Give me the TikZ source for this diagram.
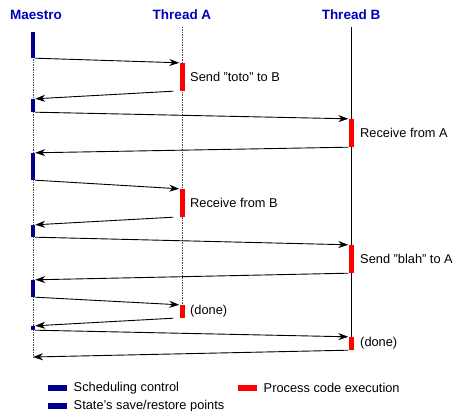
\documentclass[tikz,border=0pt]{standalone}
\usepackage{fontspec}
\setmainfont{Liberation Sans}
\usepackage{tikz}
\usetikzlibrary{positioning, arrows.meta, backgrounds}
\definecolor{MNavy}{RGB}{0,0,140}
\definecolor{MBlue}{RGB}{0,0,190}
\definecolor{MRed}{RGB}{255,0,0}

\begin{document}
\begin{tikzpicture}[x=1pt, y=-1pt,
            ctrl/.style={rectangle, fill=MNavy, inner sep=0pt, minimum width=4pt},
            exec/.style={rectangle, fill=MRed, inner sep=0pt, minimum width=5pt},
            msg/.style={-{Stealth[length=10pt, width=7pt]}, line width=0.9pt},
            life/.style={line width=1pt, black!70, dash pattern=on 1.5pt off 1pt},
            lbl/.style={anchor=west, font=\fontsize{12.8}{14}\selectfont},
            head/.style={font=\fontsize{13.5}{16}\selectfont\bfseries, text=MBlue}
          ]
          \useasboundingbox (0,0) rectangle (454,411);

          % Headings
          \node[head] (maestro) at (36, 15) {Maestro};
          \node[head] (thA)     at (182, 15) {Thread A};
          \node[head] (thB)     at (351, 15) {Thread B};

          % Maestro bars
          \node[ctrl, minimum height=26pt] (m1) at (33, 45) {};
          \node[ctrl, minimum height=13pt] (m2) at (33, 105.5) {};
          \node[ctrl, minimum height=27pt] (m3) at (33, 166.5) {};
          \node[ctrl, minimum height=12pt] (m4) at (33, 231) {};
          \node[ctrl, minimum height=17pt] (m5) at (33, 288.5) {};
          \node[ctrl, minimum height=4pt]  (m6) at (33, 328) {};
          \coordinate (mEnd) at (33, 357);

          % Thread A bars
          \node[exec, minimum height=28pt] (a1) at (182, 77) {};
          \node[exec, minimum height=28pt] (a2) at (182, 203) {};
          \node[exec, minimum height=13pt] (a3) at (182, 311.5) {};

          % Thread B bars
          \node[exec, minimum height=28pt] (b1) at (351, 133) {};
          \node[exec, minimum height=28pt] (b2) at (351, 259) {};
          \node[exec, minimum height=13pt] (b3) at (351, 343.5) {};

          % Lifelines
          \begin{scope}[on background layer]
            \draw[life] (m1.north) -- (mEnd);
            \draw[life] (182, 27) -- (a3.north);
            \draw[line width=0.9pt] (351, 27) -- (b3.north);
          \end{scope}

          % Labels
          \node[lbl] at ([xshift=2pt]a1.east) {Send "toto" to B};
          \node[lbl] at ([xshift=3pt]b1.east) {Receive from A};
          \node[lbl] at ([xshift=2pt]a2.east) {Receive from B};
          \node[lbl] at ([xshift=3pt]b2.east) {Send "blah" to A};
          \node[lbl] at ([xshift=2pt]a3.east) {(done)};
          \node[lbl] at ([xshift=3pt]b3.east) {(done)};

          % Messages
          \draw[msg] (m1.south east) -- (a1.north west);
          \draw[msg] ([xshift=-6pt]a1.south west) -- (m2.north east);
          \draw[msg] (m2.south east) -- (b1.north west);
          \draw[msg] (b1.south west) -- (m3.north east);
          \draw[msg] (m3.south east) -- (a2.north west);
          \draw[msg] ([xshift=-6pt]a2.south west) -- (m4.north east);
          \draw[msg] (m4.south east) -- (b2.north west);
          \draw[msg] (b2.south west) -- (m5.north east);
          \draw[msg] (m5.south east) -- (a3.north west);
          \draw[msg] ([xshift=-6pt]a3.south west) -- (m6.north east);
          \draw[msg] (m6.south east) -- (b3.north west);
          \draw[msg] (b3.south west) -- (mEnd);

          % Legend
          \node[ctrl, minimum width=19pt, minimum height=6pt] (leg1) at (57.5, 388) {};
          \node[lbl, right=3pt of leg1] {Scheduling control};
          \node[ctrl, minimum width=19pt, minimum height=6pt] (leg2) at (57.5, 406) {};
          \node[lbl, right=3pt of leg2] {State{\char"27}s save/restore points};
          \node[exec, minimum width=19pt, minimum height=6pt] (leg3) at (247.5, 388) {};
          \node[lbl, right=3pt of leg3] {Process code execution};
        \end{tikzpicture}
\end{document}
